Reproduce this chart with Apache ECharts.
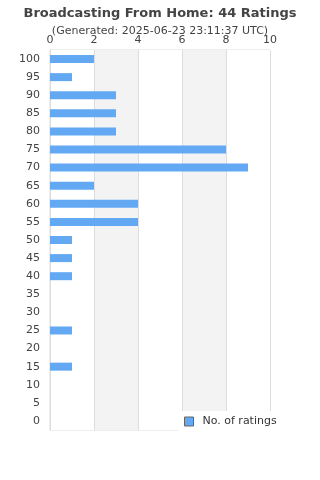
<!DOCTYPE html>
<html>
<head>
<meta charset="utf-8">
<script src="https://cdn.jsdelivr.net/npm/echarts@6/dist/echarts.min.js"></script>
<style>
  html, body { margin: 0; padding: 0; background: #fff; }
  #main { width: 320px; height: 480px; }
</style>
</head>
<body>
<div id="main"></div>
<script>
// ratings buckets, 100 at the top
let categories = ['0', '5', '10', '15', '20', '25', '30', '35', '40', '45', '50',
                  '55', '60', '65', '70', '75', '80', '85', '90', '95', '100'];
let counts = [0, 0, 0, 1, 0, 1, 0, 0, 1, 1, 1, 4, 4, 2, 9, 8, 3, 3, 3, 1, 2];
let xTicks = [0, 2, 4, 6, 8, 10];

let myChart = echarts.init(document.getElementById('main'));
myChart.setOption({
    animation: false,
    title: {
        text: 'Broadcasting From Home: 44 Ratings',
        subtext: '(Generated: 2025-06-23 23:11:37 UTC)',
        left: 'center',
        top: 2,
        itemGap: 6,
        textStyle: { fontFamily: 'DejaVu Sans', fontSize: 13, fontWeight: 'bold', color: '#444' },
        subtextStyle: { fontFamily: 'DejaVu Sans', fontSize: 11, color: '#444' }
    },
    grid: {
        left: 50, right: 50, top: 50, bottom: 50,
        show: true,
        borderColor: '#ddd',
        borderWidth: 1
    },
    xAxis: {
        type: 'value',
        position: 'top',
        min: xTicks[0],
        max: xTicks[xTicks.length - 1],
        interval: 2,
        axisLine: { show: false },
        axisTick: { show: false },
        axisLabel: { margin: 4, color: '#444', fontFamily: 'DejaVu Sans', fontSize: 11 },
        splitLine: { show: true, lineStyle: { color: '#ddd' } },
        splitArea: { show: true, areaStyle: { color: ['#fff', '#f3f3f3'] } }
    },
    yAxis: {
        type: 'category',
        data: categories,
        axisLine: { show: true, lineStyle: { color: '#ddd' } },
        axisTick: { show: false },
        axisLabel: { margin: 10, color: '#444', fontFamily: 'DejaVu Sans', fontSize: 11 }
    },
    legend: {
        data: ['No. of ratings'],
        left: 178,
        top: 411,
        padding: [5, 6, 5, 6],
        backgroundColor: '#fff',
        itemWidth: 9,
        itemHeight: 9,
        itemGap: 10,
        icon: 'rect',
        itemStyle: { borderColor: '#666', borderWidth: 1 },
        textStyle: { fontFamily: 'DejaVu Sans', fontSize: 11, color: '#333', padding: [0, 0, 0, 4] }
    },
    series: [{
        name: 'No. of ratings',
        type: 'bar',
        data: counts,
        barWidth: 8,
        itemStyle: { color: '#62a8f3' }
    }]
});
</script>
</body>
</html>
